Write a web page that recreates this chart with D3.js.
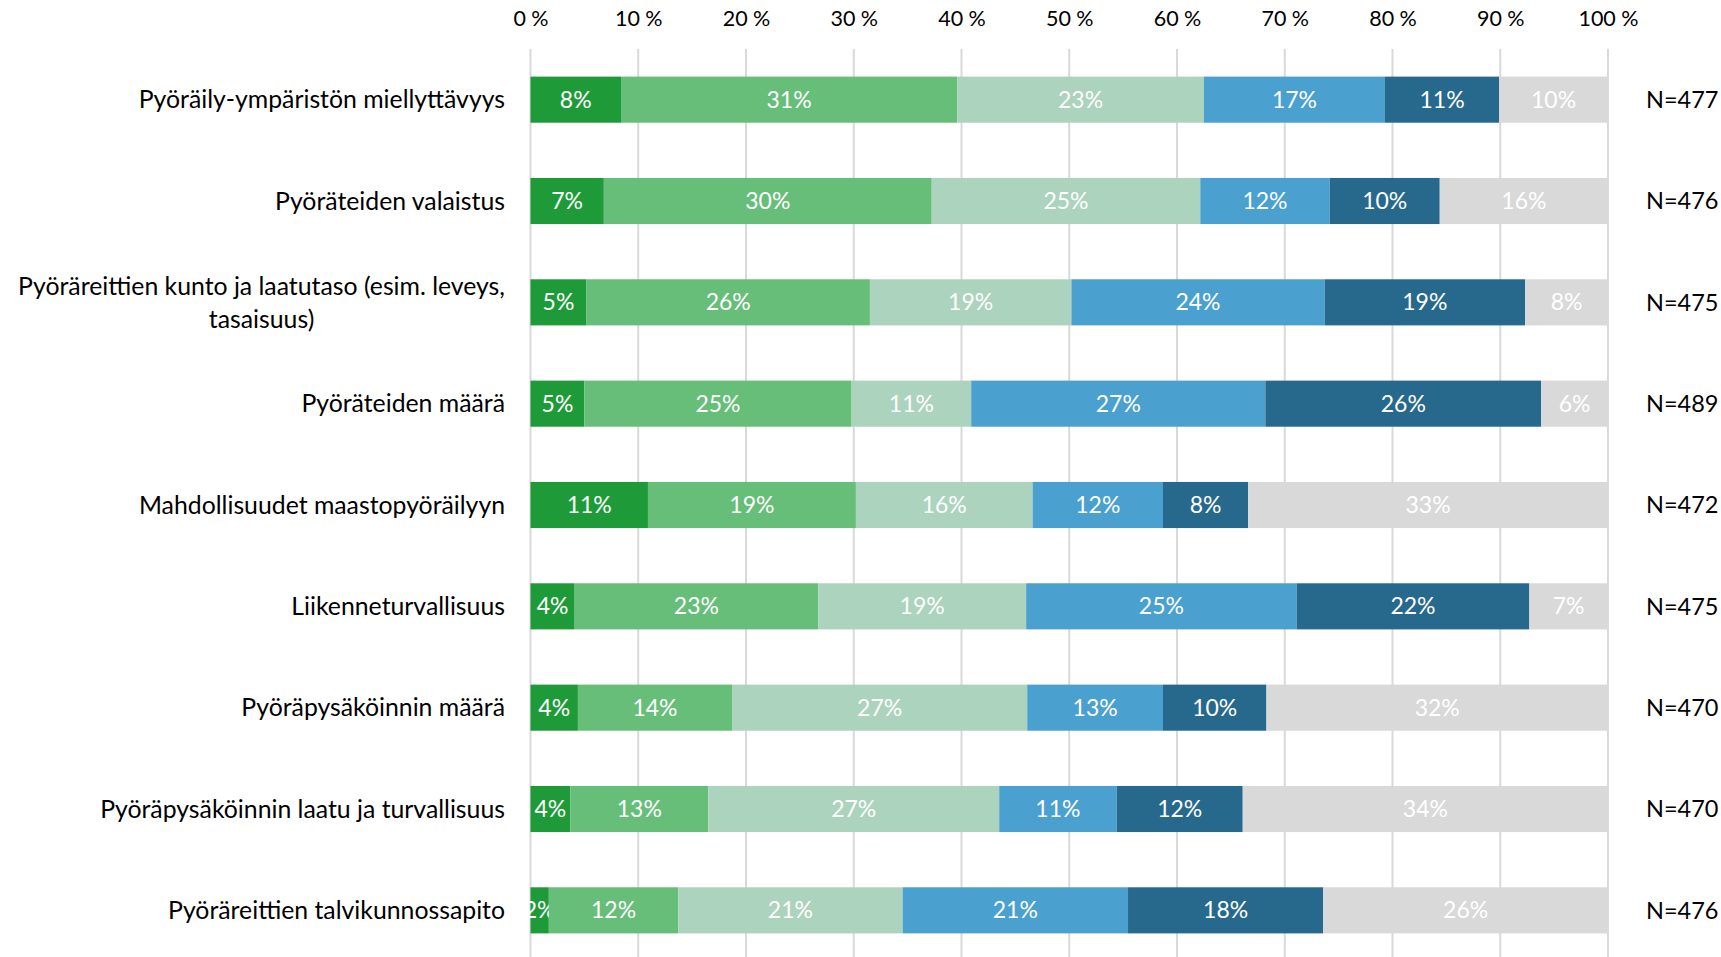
<!DOCTYPE html>
<html>
<head>
<meta charset="utf-8">
<script src="https://cdn.jsdelivr.net/npm/d3@7"></script>
<style>
  body { margin: 0; background: #fff; }
  text { font-family: Lato, "Open Sans", sans-serif; }
</style>
</head>
<body>
<div id="chart"></div>
<script>
"use strict"

// categories, top to bottom
const categories = [
  "Pyöräily-ympäristön miellyttävyys",
  "Pyöräteiden valaistus",
  "Pyöräreittien kunto ja laatutaso (esim. leveys,|tasaisuus)",
  "Pyöräteiden määrä",
  "Mahdollisuudet maastopyöräilyyn",
  "Liikenneturvallisuus",
  "Pyöräpysäköinnin määrä",
  "Pyöräpysäköinnin laatu ja turvallisuus",
  "Pyöräreittien talvikunnossapito"
];
const nLabels = ["N=477", "N=476", "N=475", "N=489", "N=472", "N=475", "N=470", "N=470", "N=476"];

// share of answers (%) per response class, one value per category
const series1 = [8.4, 6.8, 5.2, 5.0, 10.9, 4.1, 4.4, 3.7, 1.7];
const series2 = [31.2, 30.4, 26.3, 24.8, 19.3, 22.6, 14.3, 12.8, 12.0];
const series3 = [22.9, 24.9, 18.7, 11.1, 16.4, 19.3, 27.4, 27.0, 20.8];
const series4 = [16.8, 12.0, 23.5, 27.3, 12.1, 25.1, 12.6, 10.9, 20.9];
const series5 = [10.6, 10.2, 18.6, 25.6, 7.9, 21.6, 9.6, 11.7, 18.1];
const series6 = [10.1, 15.6, 7.7, 6.2, 33.4, 7.3, 31.7, 33.9, 26.4];

const tickValues = [0, 0.1, 0.2, 0.3, 0.4, 0.5, 0.6, 0.7, 0.8, 0.9, 1.0];
const colors = ["#1e9b38", "#66be78", "#acd3bd", "#4aa0ce", "#27698c", "#d9d9d9"];

const keys = ["s1", "s2", "s3", "s4", "s5", "s6"];
const allSeries = [series1, series2, series3, series4, series5, series6];

let rows = categories.map(function(c, i) {
  let r = { cat: c, n: nLabels[i] };
  keys.forEach(function(k, j) { r[k] = allSeries[j][i]; });
  return r;
});

let width = 1721, height = 957;

let svg = d3.select("#chart")
  .append("svg")
  .attr("width", width)
  .attr("height", height);

let x = d3.scaleLinear()
  .domain([0, 1])
  .range([530.5, 1608]);

let y = d3.scaleBand()
  .domain(categories)
  .range([49, 961])
  .paddingInner(0.545)
  .paddingOuter(0.2725);

// gridlines
svg.append("g")
  .selectAll("line")
  .data(tickValues)
  .enter()
  .append("line")
  .attr("x1", function(d) { return x(d) })
  .attr("x2", function(d) { return x(d) })
  .attr("y1", 49)
  .attr("y2", height)
  .style("stroke", "#d9d9d9")
  .style("stroke-width", 2);

// top axis
let axis = svg.append("g")
  .attr("transform", "translate(0,26)")
  .call(d3.axisTop(x).tickValues(tickValues).tickSize(0).tickPadding(0)
    .tickFormat(function(d) { return Math.round(d * 100) + " %" }));
axis.select(".domain").remove();
axis.selectAll("text")
  .style("font-family", "Lato, sans-serif")
  .style("font-size", "21.5px")
  .style("fill", "#000");

let stacked = d3.stack().keys(keys).offset(d3.stackOffsetExpand)(rows);

let groups = svg.selectAll(".layer")
  .data(stacked)
  .enter()
  .append("g")
  .attr("class", "layer")
  .style("fill", function(d, i) { return colors[i] });

groups.selectAll("rect")
  .data(function(d) { return d })
  .enter()
  .append("rect")
  .attr("x", function(d) { return x(d[0]) })
  .attr("width", function(d) { return x(d[1]) - x(d[0]) })
  .attr("y", function(d) { return y(d.data.cat) })
  .attr("height", y.bandwidth());

groups.each(function(layer, li) {
  d3.select(this).selectAll("text")
    .data(layer)
    .enter()
    .append("text")
    .attr("x", function(d) { return (x(d[0]) + x(d[1])) / 2 })
    .attr("y", function(d) { return y(d.data.cat) + y.bandwidth() / 2 })
    .attr("dy", "0.35em")
    .style("text-anchor", "middle")
    .style("font-size", "23px")
    .style("fill", "#fff")
    .text(function(d) { return Math.round(d.data[layer.key]) + "%" });
});

// category labels
svg.append("g")
  .selectAll("text")
  .data(categories)
  .enter()
  .append("text")
  .style("font-size", "24.8px")
  .style("fill", "#000")
  .each(function(c) {
    let lines = c.split("|");
    let t = d3.select(this);
    let cy = y(c) + y.bandwidth() / 2;
    if (lines.length == 1) {
      t.attr("x", 505).attr("y", cy).attr("dy", "0.35em")
       .style("text-anchor", "end").text(c);
    } else {
      let first = t.append("tspan")
        .attr("y", cy - 16.5).attr("dy", "0.35em")
        .text(lines[0]);
      let w = first.node().getComputedTextLength();
      let mid = 505 - w / 2;
      first.attr("x", mid);
      t.style("text-anchor", "middle");
      t.append("tspan")
        .attr("x", mid).attr("y", cy + 16.5).attr("dy", "0.35em")
        .text(lines[1]);
    }
  });

// N labels
svg.append("g")
  .selectAll("text")
  .data(rows)
  .enter()
  .append("text")
  .attr("x", 1646)
  .attr("y", function(d) { return y(d.cat) + y.bandwidth() / 2 })
  .attr("dy", "0.35em")
  .style("font-size", "23.5px")
  .style("fill", "#000")
  .text(function(d) { return d.n });
</script>
</body>
</html>
